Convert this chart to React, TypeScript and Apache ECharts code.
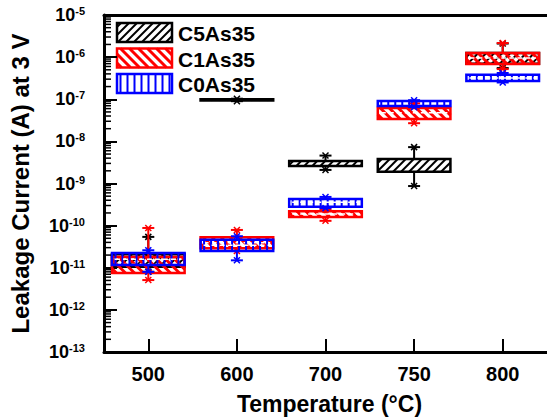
import React, { useEffect, useRef } from 'react';
import * as echarts from 'echarts';

const categories = ['500', '600', '700', '750', '800'];
const seriesNames = ['C5As35', 'C1As35', 'C0As35'];
const seriesColors = ['#000000', '#ff0000', '#0000ff'];
const hatchKinds = ['fwd', 'back', 'vert'];

// [min, Q1, median, Q3, max] per temperature
const c5As35 = [
  [8e-12, 1.05e-11, 1.5e-11, 2.1e-11, 5.4e-11],
  [9.0e-8, 9.3e-8, 9.6e-8, 1.0e-7, 1.03e-7],
  [2.1e-9, 2.6e-9, 3.0e-9, 3.4e-9, 4.6e-9],
  [8.7e-10, 1.9e-9, 2.8e-9, 3.8e-9, 7.3e-9],
  [5.5e-7, 7.0e-7, 9.5e-7, 1.25e-6, 2.1e-6],
];
const c1As35 = [
  [5.1e-12, 7.5e-12, 1.2e-11, 1.8e-11, 8.8e-11],
  [2.5e-11, 2.9e-11, 3.9e-11, 5.3e-11, 7.9e-11],
  [1.3e-10, 1.6e-10, 1.9e-10, 2.2e-10, 2.4e-10],
  [2.7e-8, 3.4e-8, 4.8e-8, 6.2e-8, 8.0e-8],
  [5.2e-7, 6.9e-7, 9.5e-7, 1.25e-6, 2.16e-6],
];
const c0As35 = [
  [8e-12, 1.16e-11, 1.6e-11, 2.25e-11, 2.6e-11],
  [1.5e-11, 2.5e-11, 3.4e-11, 4.6e-11, 5.6e-11],
  [2.6e-10, 2.8e-10, 3.6e-10, 4.3e-10, 4.8e-10],
  [6.5e-8, 6.9e-8, 8.0e-8, 9.1e-8, 9.5e-8],
  [2.5e-7, 2.7e-7, 3.2e-7, 3.8e-7, 4.2e-7],
];
const allSeries = [c5As35, c1As35, c0As35];

const yMin = 1e-13;
const yMax = 1e-5;
const minorDecades = [-13, -12, -11, -10, -9, -8, -7, -6];
const minorMultipliers = [2, 3, 4, 5, 6, 7, 8, 9];

const FONT = '"Liberation Sans", Arial, Helvetica, sans-serif';

function hatchLines(x: number, y: number, w: number, h: number, kind: string, spacing: number, color: string, lw: number) {
  const out: any[] = [];
  const mk = (x1: number, y1: number, x2: number, y2: number) => ({
    type: 'line',
    shape: { x1, y1, x2, y2 },
    style: { stroke: color, lineWidth: lw },
    silent: true,
  });
  if (kind === 'vert') {
    for (let k = spacing / 2; k < w; k += spacing) out.push(mk(x + k, y, x + k, y + h));
  } else if (kind === 'fwd') {
    for (let k = spacing / 2; k < w + h; k += spacing) {
      const u1 = Math.max(0, k - h), u2 = Math.min(w, k);
      out.push(mk(x + u1, y + k - u1, x + u2, y + k - u2));
    }
  } else {
    for (let k = -h + spacing / 2; k < w; k += spacing) {
      const u1 = Math.max(0, k), u2 = Math.min(w, k + h);
      out.push(mk(x + u1, y + u1 - k, x + u2, y + u2 - k));
    }
  }
  return out;
}

const hatchSpacing = [8, 9, 7];
const hatchWidth = [2, 3, 2];
const showMedian = [false, true, true];

function boxRenderer(si: number) {
  const color = seriesColors[si];
  return (params: any, api: any) => {
    const ci = api.value(0);
    const pts = [1, 2, 3, 4, 5].map((d) => api.coord([ci, api.value(d)]));
    const cx = pts[0][0];
    const band = params.coordSys.width / categories.length;
    const bw = band * 0.82;
    const yLo = pts[0][1], yQ1 = pts[1][1], yMed = pts[2][1], yQ3 = pts[3][1], yHi = pts[4][1];
    const x0 = cx - bw / 2;
    const h = Math.max(yQ1 - yQ3, 0.5);
    const ln = (x1: number, y1: number, x2: number, y2: number, st: any) => ({
      type: 'line', shape: { x1, y1, x2, y2 }, style: st,
    });
    const wst = { stroke: color, lineWidth: 2 };
    const cap = (yy: number) => [
      ln(cx - 6, yy, cx + 6, yy, wst),
      ln(cx - 3, yy - 3, cx + 3, yy + 3, { stroke: color, lineWidth: 1.5 }),
      ln(cx - 3, yy + 3, cx + 3, yy - 3, { stroke: color, lineWidth: 1.5 }),
    ];
    const children: any[] = [
      ln(cx, yQ3, cx, yHi, wst),
      ln(cx, yQ1, cx, yLo, wst),
      ...cap(yHi),
      ...cap(yLo),
      ...hatchLines(x0, yQ3, bw, h, hatchKinds[si], hatchSpacing[si], color, hatchWidth[si]),
      {
        type: 'rect',
        shape: { x: x0, y: yQ3, width: bw, height: h },
        style: { fill: 'none', stroke: color, lineWidth: 2.5 },
      },
    ];
    if (showMedian[si] && h > 5.5) {
      children.push(ln(x0 + 3, yMed, x0 + bw - 3, yMed, { stroke: '#ffffff', lineWidth: 1.5, lineDash: [5, 3] }));
    }
    return { type: 'group', children };
  };
}

function legendGraphic() {
  const els: any[] = [];
  const bx = 117, bw = 55, bh = 19;
  const tops = [23, 48.5, 74];
  seriesNames.forEach((name, i) => {
    const by = tops[i];
    els.push(...hatchLines(bx, by, bw, bh, hatchKinds[i], hatchSpacing[i], seriesColors[i], hatchWidth[i]));
    els.push({
      type: 'rect',
      shape: { x: bx, y: by, width: bw, height: bh },
      style: { fill: 'none', stroke: seriesColors[i], lineWidth: 2.5 },
    });
    els.push({
      type: 'text',
      x: 178,
      y: by + bh / 2 + 1,
      style: {
        text: name,
        font: `bold 21px ${FONT}`,
        fill: '#000',
        align: 'left',
        verticalAlign: 'middle',
      },
    });
  });
  return els;
}

export default function App() {
  const ref = useRef<HTMLDivElement>(null);
  useEffect(() => {
    if (!ref.current) return;
    const chart = echarts.init(ref.current, null, { renderer: 'svg' });
    const minorData: number[][] = [];
    minorDecades.forEach((d) => minorMultipliers.forEach((m) => minorData.push([0, m * Math.pow(10, d)])));

    const boxSeries = allSeries.map((data, si) => ({
      type: 'custom',
      name: seriesNames[si],
      coordinateSystem: 'cartesian2d',
      xAxisIndex: 0,
      yAxisIndex: 0,
      encode: { x: 0, y: [1, 2, 3, 4, 5] },
      data: data.map((row, ci) => [ci, ...row]),
      renderItem: boxRenderer(si),
      z: 3 + si,
      clip: false,
    }));

    chart.setOption({
      animation: false,
      backgroundColor: '#ffffff',
      grid: { left: 98, top: 15, width: 450, height: 337, containLabel: false },
      xAxis: [
        {
          type: 'category',
          data: categories,
          position: 'bottom',
          boundaryGap: true,
          axisLine: { show: true, lineStyle: { color: '#000', width: 3 } },
          axisTick: { show: true, inside: true, alignWithLabel: true, length: 13, lineStyle: { color: '#000', width: 2 } },
          axisLabel: { color: '#000', fontSize: 20, fontWeight: 'bold', fontFamily: FONT, margin: 12 },
          splitLine: { show: false },
          name: 'Temperature (°C)',
          nameLocation: 'middle',
          nameGap: 40,
          nameTextStyle: { color: '#000', fontSize: 23, fontWeight: 'bold', fontFamily: FONT, padding: [0, 0, 0, 8] },
        },
        {
          type: 'category',
          data: categories,
          position: 'top',
          axisLine: { show: true, lineStyle: { color: '#000', width: 3 } },
          axisTick: { show: false },
          axisLabel: { show: false },
          splitLine: { show: false },
        },
      ],
      yAxis: {
        type: 'log',
        logBase: 10,
        min: yMin,
        max: yMax,
        interval: 1,
        axisLine: { show: true, lineStyle: { color: '#000', width: 3 } },
        axisTick: { show: true, inside: true, length: 13, lineStyle: { color: '#000', width: 2 } },
        splitLine: { show: false },
        axisLabel: {
          margin: 19,
          formatter: (v: number) => `{b|10}{s|${Math.round(Math.log10(v))}}`,
          rich: {
            b: { fontSize: 18, fontWeight: 'bold', fontFamily: FONT, color: '#000' },
            s: { fontSize: 11, fontWeight: 'bold', fontFamily: FONT, color: '#000', verticalAlign: 'top', padding: [0, 0, 8, 0] },
          },
        },
        name: 'Leakage Current (A) at 3 V',
        nameLocation: 'middle',
        nameGap: 72,
        nameRotate: 90,
        nameTextStyle: { color: '#000', fontSize: 24, fontWeight: 'bold', fontFamily: FONT, padding: [0, 0, 0, 0] },
      },
      series: [
        {
          type: 'custom',
          name: 'minorTicks',
          coordinateSystem: 'cartesian2d',
          encode: { x: 0, y: 1 },
          data: minorData,
          silent: true,
          clip: false,
          z: 10,
          renderItem: (params: any, api: any) => {
            const y = api.coord([0, api.value(1)])[1];
            const x = params.coordSys.x;
            return {
              type: 'line',
              shape: { x1: x, y1: y, x2: x + 7, y2: y },
              style: { stroke: '#000', lineWidth: 1.5 },
            };
          },
        },
        ...boxSeries,
      ],
      graphic: legendGraphic(),
    });
    return () => chart.dispose();
  }, []);
  return <div ref={ref} style={{ position: 'fixed', left: 0, top: 0, width: 547, height: 420 }} />;
}
